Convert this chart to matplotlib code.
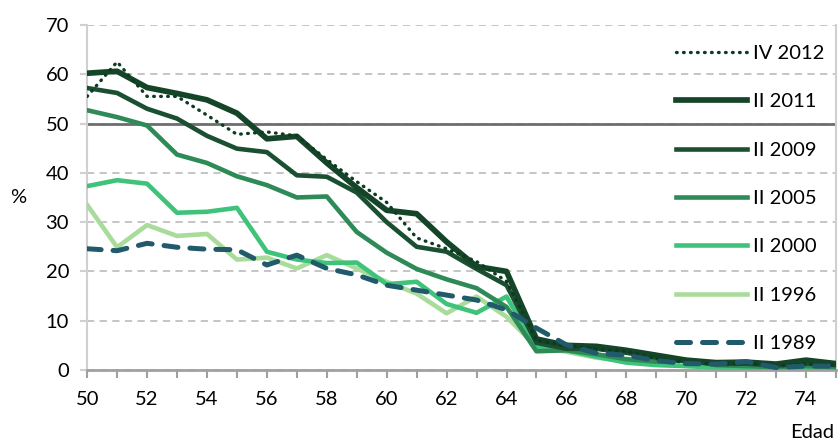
import matplotlib
matplotlib.use("Agg")
import matplotlib.pyplot as plt
from matplotlib.ticker import MultipleLocator

# Edad 50..75
ages = list(range(50, 76))

iv_2012 = [55.5, 62.5, 55.5, 55.5, 51.7, 47.8, 48.3, 47.5, 42.7, 38.2, 34.0, 26.8, 24.6,
           22.0, 18.0, 6.0, 5.0, 4.2, 3.8, 2.3, 1.5, 1.2, 1.4, 0.8, 1.2, 1.0]
ii_2011 = [60.2, 60.6, 57.3, 56.1, 54.8, 52.1, 46.9, 47.4, 42.0, 37.0, 32.4, 31.7, 26.0,
           21.0, 20.0, 6.3, 5.0, 4.8, 4.0, 3.0, 2.0, 1.5, 1.6, 1.2, 2.0, 1.3]
ii_2009 = [57.2, 56.2, 53.0, 51.0, 47.5, 44.9, 44.2, 39.5, 39.2, 36.0, 30.0, 25.0, 24.0,
           20.5, 17.2, 5.5, 4.3, 4.3, 3.5, 2.5, 1.8, 1.2, 1.3, 0.9, 1.3, 1.0]
ii_2005 = [52.7, 51.3, 49.6, 43.7, 42.0, 39.3, 37.5, 35.0, 35.2, 28.0, 23.8, 20.5, 18.4,
           16.6, 12.8, 3.8, 4.0, 3.2, 2.2, 1.7, 2.0, 1.0, 0.8, 0.6, 0.8, 0.6]
ii_2000 = [37.3, 38.5, 37.8, 31.9, 32.1, 32.9, 24.0, 22.4, 21.7, 21.8, 17.4, 17.9, 13.4,
           11.6, 14.9, 4.5, 4.0, 2.7, 1.5, 1.0, 0.8, 0.5, 0.4, 0.3, 0.3, 0.3]
ii_1996 = [33.5, 24.9, 29.4, 27.2, 27.6, 22.4, 22.8, 20.6, 23.3, 20.6, 17.9, 15.5, 11.5,
           14.9, 10.8, 4.7, 3.7, 2.5, 1.8, 1.2, 0.8, 0.6, 0.5, 0.4, 0.3, 0.3]
ii_1989 = [24.6, 24.2, 25.7, 24.9, 24.5, 24.4, 21.3, 23.3, 20.6, 19.3, 17.2, 16.2, 15.2,
           14.2, 12.2, 8.5, 5.1, 3.4, 3.0, 1.9, 1.3, 1.2, 1.7, 0.5, 0.8, 0.8]

plt.rcParams["font.family"] = ["Lato", "DejaVu Sans"]
FS = 14.5

fig = plt.figure(figsize=(8.38, 4.45), dpi=100)
ax = fig.add_axes([0.104, 0.1685, 0.8936, 0.7755])

# Draw curves (dashed 1989 and dotted 2012 on top)
h96, = ax.plot(ages, ii_1996, color="#a9dc9b", lw=3.3, label="II 1996", zorder=3)
h00, = ax.plot(ages, ii_2000, color="#3fc37b", lw=3.3, label="II 2000", zorder=3)
h05, = ax.plot(ages, ii_2005, color="#2e8a57", lw=3.3, label="II 2005", zorder=3)
h09, = ax.plot(ages, ii_2009, color="#1b4f31", lw=3.3, label="II 2009", zorder=3)
h11, = ax.plot(ages, ii_2011, color="#154529", lw=4.1, label="II 2011", zorder=3)
h12, = ax.plot(ages, iv_2012, color="#0e3a22", lw=2.4, linestyle=(0, (0.2, 1.9)),
               dash_capstyle="round", label="IV 2012", zorder=4)
h89, = ax.plot(ages, ii_1989, color="#215a6b", lw=3.6, linestyle=(0, (2.8, 2.4)),
               dash_capstyle="round", label="II 1989", zorder=4)

# Reference line at 50 %
ax.axhline(50, color="#6e6e6e", lw=2.0, zorder=2)

ax.set_xlim(50, 75)
ax.set_ylim(0, 70)
ax.xaxis.set_major_locator(MultipleLocator(2))
ax.xaxis.set_minor_locator(MultipleLocator(1))
ax.yaxis.set_major_locator(MultipleLocator(10))

ax.grid(axis="y", color="#c0c0c0", linestyle=(0, (4, 3)), lw=1.3, zorder=1)
ax.set_axisbelow(True)

ax.spines["top"].set_visible(False)
ax.spines["left"].set_color("#d0d0d0")
ax.spines["left"].set_linewidth(1.5)
ax.spines["right"].set_color("#d0d0d0")
ax.spines["right"].set_linewidth(1.5)
ax.spines["bottom"].set_color("#a0a0a0")
ax.spines["bottom"].set_linewidth(2.0)

ax.tick_params(axis="x", which="both", direction="out", length=6, width=1.5,
               color="#a0a0a0", labelsize=FS, pad=9)
ax.tick_params(axis="y", direction="out", length=5, width=1.5, color="#d0d0d0",
               labelsize=FS, pad=8)

ax.set_ylabel("%", fontsize=FS, rotation=0, labelpad=20, va="center")
ax.text(0.997, -0.18, "Edad", transform=ax.transAxes, ha="right", va="center",
        fontsize=FS)

handles = [h12, h11, h09, h05, h00, h96, h89]
ax.legend(handles=handles, loc="upper right", bbox_to_anchor=(0.995, 0.965),
          frameon=False, fontsize=FS, handlelength=3.5, handletextpad=0.3,
          labelspacing=1.55, borderaxespad=0)

fig.savefig("out.png", dpi=100)
